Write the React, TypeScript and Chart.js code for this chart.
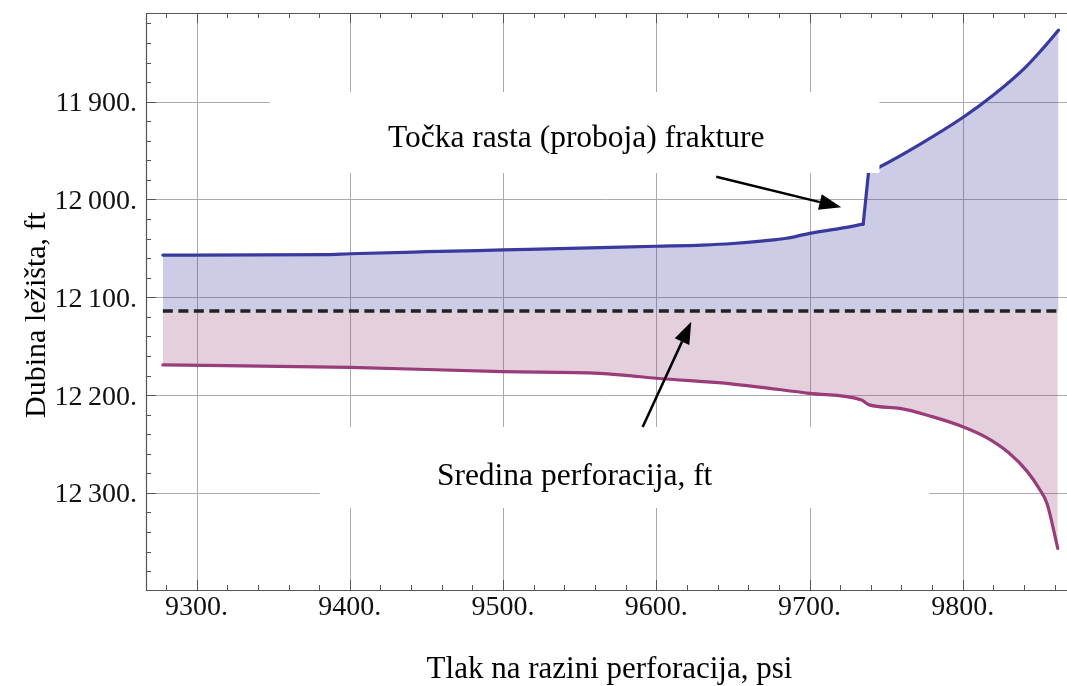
import { useEffect, useRef } from 'react';
import { Chart, registerables } from 'chart.js';

Chart.register(...registerables);

// ---- data ----
const upperPressure = [9278, 9385, 9400, 9450, 9500, 9550, 9600, 9630, 9650, 9670, 9685, 9700, 9720, 9735, 9738.5, 9746, 9772, 9800, 9820, 9840, 9852, 9862.5];
const upperDepth = [12056.8, 12056.4, 12055.5, 12053.4, 12051.6, 12049.8, 12047.8, 12046.6, 12045.0, 12042.3, 12039.6, 12034.6, 12029.6, 12025.2, 11972, 11966.5, 11943.6, 11916.2, 11893.2, 11866.2, 11846, 11826.8];
const fractureJumpIndex = 13; // 9735 psi: start of the jump

const lowerPressure = [9278, 9400, 9500, 9563, 9580, 9600, 9650, 9700, 9734, 9739, 9759, 9780, 9800, 9815, 9830, 9842, 9850, 9855, 9862];
const lowerDepth = [12169.2, 12171.6, 12176.1, 12177.7, 12179.8, 12182.8, 12188.7, 12198.2, 12205, 12210, 12213.5, 12222, 12232.3, 12243, 12259, 12278, 12296, 12311, 12356.7];

const midDepth = 12114;
const midPressure = [9278, 9862.5];

const xTickValues = [9300, 9400, 9500, 9600, 9700, 9800];
const xTickLabels = ['9300.', '9400.', '9500.', '9600.', '9700.', '9800.'];
const yTickValues = [11900, 12000, 12100, 12200, 12300];
const yTickLabels = ['11\u2009900.', '12\u2009000.', '12\u2009100.', '12\u2009200.', '12\u2009300.'];

const xTitle = 'Tlak na razini perforacija, psi';
const yTitle = 'Dubina ležišta, ft';

const fractureLabel = 'Točka rasta (proboja) frakture';
const perforationLabel = 'Sredina perforacija, ft';

// label boxes / text anchors / arrows in data units [pressure, depth]
const fractureBox = [9347.8, 11890.1, 9745.6, 11972.9];
const fractureTextAt = [9547.7, 11946.3];
const fractureArrow = [9639.1, 11976.7, 9720.7, 12008.0];
const perforationBox = [9380.4, 12232.6, 9778.2, 12315.4];
const perforationTextAt = [9546.7, 12291.9];
const perforationArrow = [9591.1, 12232.6, 9622.8, 12124.9];

const X_MIN = 9267;
const X_MAX = 9868;
const Y_MIN = 11809.3;
const Y_MAX = 12399.3;

const SERIF = '"Liberation Serif", "Times New Roman", serif';
const BLUE = '#3a3a9e';
const PURPLE = '#9a3b7a';

function drawArrow(ctx: CanvasRenderingContext2D, x1: number, y1: number, x2: number, y2: number) {
  const ang = Math.atan2(y2 - y1, x2 - x1);
  const headLen = 22;
  const headHalf = 8;
  const bx = x2 - headLen * Math.cos(ang);
  const by = y2 - headLen * Math.sin(ang);
  ctx.save();
  ctx.strokeStyle = '#000';
  ctx.fillStyle = '#000';
  ctx.lineWidth = 2.5;
  ctx.beginPath();
  ctx.moveTo(x1, y1);
  ctx.lineTo(bx, by);
  ctx.stroke();
  ctx.beginPath();
  ctx.moveTo(x2, y2);
  ctx.lineTo(bx + headHalf * Math.sin(ang), by - headHalf * Math.cos(ang));
  ctx.lineTo(bx - headHalf * Math.sin(ang), by + headHalf * Math.cos(ang));
  ctx.closePath();
  ctx.fill();
  ctx.restore();
}

const framePlugin = {
  id: 'mathematicaFrame',
  beforeDatasetsDraw(chart: any) {
    const { ctx, chartArea: a, scales } = chart;
    const x = scales.x;
    const y = scales.y;
    ctx.save();
    ctx.strokeStyle = '#ababab';
    ctx.lineWidth = 1;
    ctx.beginPath();
    xTickValues.forEach((v) => {
      const px = Math.round(x.getPixelForValue(v)) + 0.5;
      ctx.moveTo(px, a.top);
      ctx.lineTo(px, a.bottom);
    });
    yTickValues.forEach((v) => {
      const py = Math.round(y.getPixelForValue(v)) + 0.5;
      ctx.moveTo(a.left, py);
      ctx.lineTo(a.right, py);
    });
    ctx.stroke();
    ctx.restore();
  },
  afterDatasetsDraw(chart: any) {
    const { ctx, chartArea: a, scales } = chart;
    const x = scales.x;
    const y = scales.y;
    const px = (v: number) => x.getPixelForValue(v);
    const py = (v: number) => y.getPixelForValue(v);

    ctx.save();
    // white label backgrounds
    ctx.fillStyle = '#ffffff';
    [fractureBox, perforationBox].forEach((b) => {
      const x0 = px(b[0]);
      const y0 = py(b[1]);
      const x1 = px(b[2]);
      const y1 = py(b[3]);
      ctx.fillRect(x0, y0, x1 - x0, y1 - y0);
    });

    // annotation texts
    ctx.fillStyle = '#000';
    ctx.font = `31.5px ${SERIF}`;
    ctx.textAlign = 'center';
    ctx.textBaseline = 'alphabetic';
    ctx.fillText(fractureLabel, px(fractureTextAt[0]), py(fractureTextAt[1]));
    ctx.fillText(perforationLabel, px(perforationTextAt[0]), py(perforationTextAt[1]));

    // arrows
    drawArrow(ctx, px(fractureArrow[0]), py(fractureArrow[1]), px(fractureArrow[2]), py(fractureArrow[3]));
    drawArrow(ctx, px(perforationArrow[0]), py(perforationArrow[1]), px(perforationArrow[2]), py(perforationArrow[3]));

    // frame
    ctx.strokeStyle = '#555';
    ctx.lineWidth = 1.2;
    ctx.beginPath();
    ctx.moveTo(a.right, a.top + 0.5);
    ctx.lineTo(a.left + 0.5, a.top + 0.5);
    ctx.lineTo(a.left + 0.5, a.bottom + 0.5);
    ctx.lineTo(a.right, a.bottom + 0.5);
    ctx.stroke();

    // inward ticks
    ctx.lineWidth = 1;
    ctx.beginPath();
    for (let v = 9280; v <= X_MAX; v += 20) {
      const major = v % 100 === 0;
      const len = major ? 10 : 5;
      const xx = Math.round(px(v)) + 0.5;
      ctx.moveTo(xx, a.bottom);
      ctx.lineTo(xx, a.bottom - len);
      ctx.moveTo(xx, a.top);
      ctx.lineTo(xx, a.top + len);
    }
    for (let v = 11820; v <= Y_MAX; v += 20) {
      const major = v % 100 === 0;
      const len = major ? 10 : 5;
      const yy = Math.round(py(v)) + 0.5;
      ctx.moveTo(a.left, yy);
      ctx.lineTo(a.left + len, yy);
    }
    ctx.stroke();

    // tick labels
    ctx.fillStyle = '#111';
    ctx.font = `28px ${SERIF}`;
    ctx.textAlign = 'center';
    ctx.textBaseline = 'alphabetic';
    xTickValues.forEach((v, i) => {
      ctx.fillText(xTickLabels[i], px(v), a.bottom + 25);
    });
    ctx.textAlign = 'right';
    yTickValues.forEach((v, i) => {
      ctx.fillText(yTickLabels[i], a.left - 9, py(v) + 9.5);
    });

    // axis titles
    ctx.fillStyle = '#000';
    ctx.font = `31px ${SERIF}`;
    ctx.textAlign = 'center';
    ctx.fillText(xTitle, (a.left + a.right) / 2 + 3, a.bottom + 88);
    ctx.save();
    ctx.translate(45, 315);
    ctx.rotate(-Math.PI / 2);
    ctx.font = `30px ${SERIF}`;
    ctx.fillText(yTitle, 0, 0);
    ctx.restore();

    ctx.restore();
  },
};

export default function App() {
  const canvasRef = useRef<HTMLCanvasElement | null>(null);

  useEffect(() => {
    const canvas = canvasRef.current;
    if (!canvas) return;
    const upper = upperPressure.map((p, i) => ({ x: p, y: upperDepth[i] }));
    const lower = lowerPressure.map((p, i) => ({ x: p, y: lowerDepth[i] }));
    const mid = midPressure.map((p) => ({ x: p, y: midDepth }));
    const upperBefore = upper.slice(0, fractureJumpIndex + 1);
    const upperJump = upper.slice(fractureJumpIndex, fractureJumpIndex + 2);
    const upperAfter = upper.slice(fractureJumpIndex + 1);

    const lineBase = {
      borderWidth: 3.2,
      pointRadius: 0,
      fill: false,
      borderCapStyle: 'round',
      borderJoinStyle: 'round',
    };

    const chart = new Chart(canvas, {
      type: 'line',
      data: {
        datasets: [
          {
            label: 'Sredina perforacija',
            data: mid,
            borderColor: '#222222',
            borderWidth: 3.5,
            borderDash: [10, 5.5],
            pointRadius: 0,
            fill: false,
          },
          { ...lineBase, label: 'Gornja granica', data: upperBefore, borderColor: BLUE, cubicInterpolationMode: 'monotone' },
          { ...lineBase, label: 'Gornja granica (skok)', data: upperJump, borderColor: BLUE, tension: 0 },
          { ...lineBase, label: 'Gornja granica (nakon)', data: upperAfter, borderColor: BLUE, cubicInterpolationMode: 'monotone' },
          { ...lineBase, label: 'Donja granica', data: lower, borderColor: PURPLE, cubicInterpolationMode: 'monotone' },
          {
            label: 'Gornja ispuna',
            data: upper,
            borderWidth: 0,
            borderColor: 'rgba(0,0,0,0)',
            pointRadius: 0,
            tension: 0,
            fill: { value: midDepth },
            backgroundColor: 'rgba(51,51,155,0.25)',
          },
          {
            label: 'Donja ispuna',
            data: lower,
            borderWidth: 0,
            borderColor: 'rgba(0,0,0,0)',
            pointRadius: 0,
            tension: 0,
            fill: { value: midDepth },
            backgroundColor: 'rgba(143,67,115,0.25)',
          },
        ],
      },
      options: {
        animation: false,
        responsive: false,
        devicePixelRatio: 1,
        events: [],
        layout: { padding: { top: 13, left: 0, right: 0, bottom: 0 } },
        plugins: {
          legend: { display: false },
          tooltip: { enabled: false },
        },
        scales: {
          x: {
            type: 'linear',
            min: X_MIN,
            max: X_MAX,
            grid: { display: false },
            border: { display: false },
            ticks: { display: false },
            afterFit: (s: any) => {
              s.height = 96;
            },
          },
          y: {
            type: 'linear',
            reverse: true,
            min: Y_MIN,
            max: Y_MAX,
            grid: { display: false },
            border: { display: false },
            ticks: { display: false },
            afterFit: (s: any) => {
              s.width = 146;
            },
          },
        },
      },
      plugins: [framePlugin],
    } as any);

    return () => chart.destroy();
  }, []);

  return (
    <div style={{ position: 'absolute', left: 0, top: 0, width: 1067, height: 686, background: '#fff' }}>
      <canvas ref={canvasRef} width={1067} height={686} style={{ display: 'block' }} />
    </div>
  );
}
